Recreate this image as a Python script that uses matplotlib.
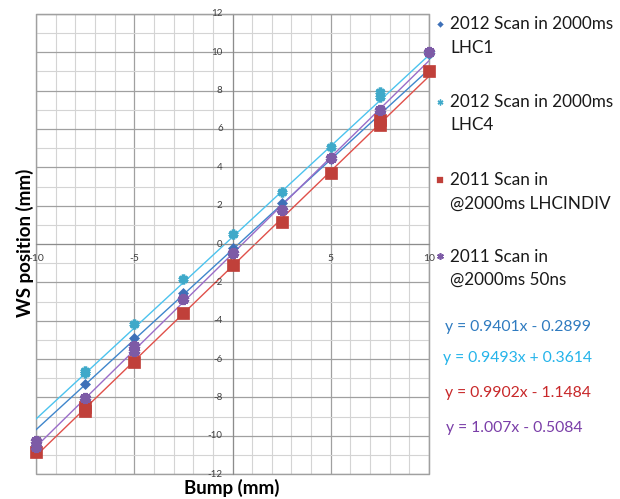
import numpy as np
import matplotlib
matplotlib.use("Agg")
import matplotlib.pyplot as plt
from matplotlib.lines import Line2D
from matplotlib.patches import Rectangle

plt.rcParams["font.family"] = ["Lato", "DejaVu Sans"]

# data
bump_lhc1 = [-7.5, -5, -2.5, 0, 2.5, 5, 7.5, 10]
ws_lhc1 = [-7.3, -4.92, -2.54, -0.22, 2.16, 4.42, 6.82, 9.9]

bump_lhc4 = [-7.5, -7.5, -5, -2.5, 0, 2.5, 5, 7.5, 7.5, 10]
ws_lhc4 = [-6.6, -6.75, -4.19, -1.82, 0.51, 2.7, 5.06, 7.92, 7.69, 9.95]

bump_indiv = [-10, -7.5, -7.5, -5, -2.5, 0, 2.5, 5, 7.5, 7.5, 10]
ws_indiv = [-10.87, -8.5, -8.7, -6.17, -3.61, -1.09, 1.17, 3.69, 6.2, 6.45, 9.03]

bump_50ns = [-10, -10, -7.5, -5, -5, -2.5, 0, 2.5, 5, 7.5, 10]
ws_50ns = [-10.3, -10.6, -8.03, -5.3, -5.6, -2.88, -0.45, 1.78, 4.47, 6.99, 10.0]

labels = ["2012 Scan in 2000ms\nLHC1", "2012 Scan in 2000ms\nLHC4",
          "2011 Scan in\n@2000ms LHCINDIV", "2011 Scan in\n@2000ms 50ns"]
slopes = [0.9401, 0.9493, 0.9902, 1.007]
intercepts = [-0.2899, 0.3614, -1.1484, -0.5084]
equations = ["y = 0.9401x - 0.2899", "y = 0.9493x + 0.3614",
             "y = 0.9902x - 1.1484", "y = 1.007x - 0.5084"]

xs = [bump_lhc1, bump_lhc4, bump_indiv, bump_50ns]
ys = [ws_lhc1, ws_lhc4, ws_indiv, ws_50ns]
marker_colors = ["#3E70B8", "#3FA9C9", "#C0403A", "#7D5BA6"]
line_colors = ["#3F86CC", "#4CC3EE", "#E0504A", "#9A6CC8"]
eq_colors = ["#2F7BC0", "#25B4EA", "#C8282A", "#7A3EA8"]
markers = ["D", (6, 2, 0), "s", (6, 2, 0)]
msizes = [5, 7, 8, 8]
mews = [0.5, 2.5, 0.5, 3]

fig = plt.figure(figsize=(6.2, 4.99), dpi=100)
ax = fig.add_axes([0.058, 0.050, 0.634, 0.922])

ax.set_xlim(-10, 10)
ax.set_ylim(-12, 12)
ax.set_xticks([-10, -5, 0, 5, 10])
ax.set_yticks(np.arange(-12, 13, 2))
ax.set_xticks(np.arange(-10, 11, 1), minor=True)
ax.set_yticks(np.arange(-12, 13, 1), minor=True)
ax.grid(which="minor", color="#D4D4D4", lw=0.8)
ax.grid(which="major", color="#A0A0A0", lw=0.9)
ax.set_axisbelow(True)
ax.tick_params(which="both", length=0, labelbottom=False, labelleft=False)

for s in ["top", "right"]:
    ax.spines[s].set_color("#A0A0A0")
ax.spines["left"].set_position(("data", 0))
ax.spines["bottom"].set_position(("data", 0))
ax.spines["left"].set_color("#8C8C8C")
ax.spines["bottom"].set_color("#8C8C8C")
ax.add_patch(Rectangle((0, 0), 1, 1, transform=ax.transAxes, fill=False,
                       ec="#A0A0A0", lw=1, clip_on=False, zorder=1))

for v in ax.get_yticks():
    ax.text(-0.5, v, "%d" % v, ha="right", va="center", fontsize=7, color="#404040")
for v in ax.get_xticks():
    ax.text(v, -0.75, "%d" % v, ha="center", va="center", fontsize=7.5, color="#404040")

xline = np.array([-10, 10])
for i in range(4):
    ax.plot(xline, slopes[i] * xline + intercepts[i], color=line_colors[i], lw=1, zorder=2)
for i in range(4):
    ax.plot(xs[i], ys[i], ls="none", marker=markers[i], ms=msizes[i],
            color=marker_colors[i], mec=marker_colors[i], mew=mews[i],
            zorder=3, clip_on=False)

fig.text(0.374, 0.022, "Bump (mm)", ha="center", va="center", fontsize=13.5, fontweight="bold")
fig.text(0.04, 0.513, "WS position (mm)", ha="center", va="center", rotation=90,
         fontsize=13.5, fontweight="bold")

# legend
leg_y = [0.951, 0.795, 0.639, 0.486]
for i in range(4):
    fig.add_artist(Line2D([0.710], [leg_y[i]], transform=fig.transFigure,
                          marker=markers[i], ms=msizes[i] * 0.6, ls="none",
                          color=marker_colors[i], mec=marker_colors[i],
                          mew=mews[i] * 0.4))
    fig.text(0.726, leg_y[i] + 0.016, labels[i], ha="left", va="top",
             fontsize=12.3, color="#1A1A1A", linespacing=1.55)

eq_y = [0.345, 0.283, 0.212, 0.143]
eq_x = [0.717, 0.714, 0.717, 0.720]
for i in range(4):
    fig.text(eq_x[i], eq_y[i], equations[i], ha="left", va="center",
             fontsize=11.3, color=eq_colors[i])

fig.savefig("out.png", dpi=100)
